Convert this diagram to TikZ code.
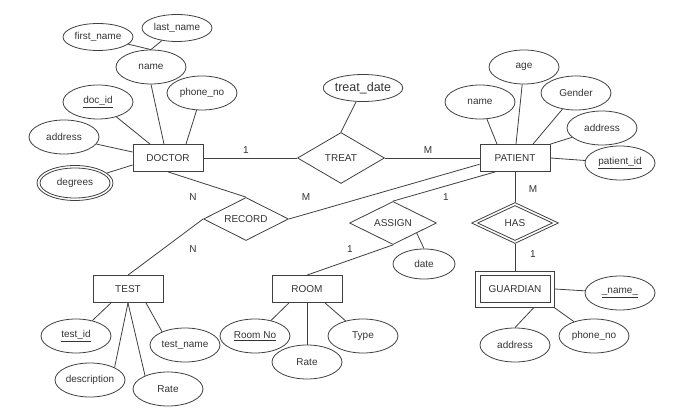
\documentclass[tikz,border=0pt]{standalone}
\usepackage{fontspec}
\setmainfont{Liberation Sans}
\usetikzlibrary{shapes.geometric}
\begin{document}
\begin{tikzpicture}[x=1pt,y=-1pt,
 every node/.style={font=\fontsize{10}{12}\selectfont, text=black!80},
 ent/.style={draw=black!75, line width=0.8pt, rectangle, minimum width=70pt, minimum height=27pt, inner sep=0pt},
 attr/.style={draw=black!75, line width=0.8pt, ellipse, minimum width=70pt, minimum height=34pt, inner sep=0pt},
 rel/.style={draw=black!75, line width=0.8pt, diamond, aspect=2, inner sep=0pt, minimum width=87pt, minimum height=43pt},
 lbl/.style={inner sep=0pt},
 conn/.style={draw=black!75, line width=0.8pt}]
\path[use as bounding box] (0,0) rectangle (696,414);

% entities
\node[ent] (doctor) at (168,158) {DOCTOR};
\node[ent] (patient) at (515,158) {PATIENT};
\node[ent] (test) at (128,289) {TEST};
\node[ent] (room) at (307,289) {ROOM};
\node[ent, minimum width=79pt, minimum height=36pt] (guardian) at (515,289) {GUARDIAN};
\node[ent, minimum width=70pt, minimum height=27pt] (guardianin) at (515,289) {};

% relationships
\node[rel, minimum height=51pt] (treat) at (341,158) {TREAT};
\node[rel, minimum width=85pt] (record) at (246,219) {RECORD};
\node[rel] (assign) at (393,223) {ASSIGN};
\node[rel, minimum width=87pt, minimum height=41pt] (has) at (515,223) {HAS};
\node[rel, minimum width=75pt, minimum height=35pt] (hasin) at (515,223) {};

% doctor attributes
\node[attr, minimum height=27pt] (fname) at (98,37) {first\_name};
\node[attr, minimum height=27pt] (lname) at (177,28) {last\_name};
\node[attr] (dname) at (151,67) {name};
\node[attr] (dphone) at (202,93) {phone\_no};
\node[attr] (docid) at (98,102) {\underline{doc\_id}};
\node[attr] (daddr) at (64,137) {address};
\node[attr, minimum width=76pt, minimum height=35pt] (degrees) at (75,183) {degrees};
\node[attr, minimum width=70pt, minimum height=30pt] (degreesin) at (75,183) {};

% treat attribute
\node[attr, minimum width=78pt, minimum height=27pt, font=\fontsize{12.5}{14}\selectfont] (tdate) at (363,88) {treat\_date};

% patient attributes
\node[attr] (pname) at (480,102) {name};
\node[attr] (page) at (524,67) {age};
\node[attr] (pgender) at (576,93) {Gender};
\node[attr] (paddr) at (602,128) {address};
\node[attr] (pid) at (620,163) {\underline{patient\_id}};

% guardian attributes
\node[attr] (gname) at (620,293) {\underline{\_name\_}};
\node[attr] (gaddr) at (515,345) {address};
\node[attr] (gphone) at (594,336) {phone\_no};

% assign attribute
\node[attr, minimum width=62pt, minimum height=30pt] (adate) at (424,264) {date};

% room attributes
\node[attr] (rno) at (255,336) {\underline{Room No}};
\node[attr] (rrate) at (307,362) {Rate};
\node[attr] (rtype) at (363,336) {Type};

% test attributes
\node[attr] (tid) at (76,336) {\underline{test\_id}};
\node[attr] (tname) at (185,345) {test\_name};
\node[attr] (tdesc) at (90,380) {description};
\node[attr] (trate) at (168,389) {Rate};

% cardinality labels
\node[lbl] (l1) at (246,150) {1};
\node[lbl] (l2) at (428,150) {M};
\node[lbl] (l3) at (193,197) {N};
\node[lbl] (l4) at (193,249) {N};
\node[lbl] (l5) at (306,197) {M};
\node[lbl] (l6) at (446,197) {1};
\node[lbl] (l7) at (350,249) {1};
\node[lbl] (l8) at (533,189) {M};
\node[lbl] (l9) at (533,254) {1};

% relationship connectors
\draw[conn] (doctor.east) -- (treat.west);
\draw[conn] (treat.east) -- (patient.west);
\draw[conn] (tdate) -- (treat.north);
\draw[conn] (doctor.south) -- (record.north);
\draw[conn] (record.west) -- (test.north);
\draw[conn] (record.east) -- (patient.190);
\draw[conn] (assign.north) -- (patient.215);
\draw[conn] (assign.south) -- (room.north);
\draw[conn] (assign.-23.5) -- (adate.north);
\draw[conn] (patient.south) -- (has.north);
\draw[conn] (has.south) -- (guardian.north);

% doctor attribute connectors
\draw[conn] (fname) -- (dname.north);
\draw[conn] (lname) -- (dname.north);
\draw[conn] (dname.south) -- ([xshift=-4pt]doctor.north);
\draw[conn] (docid) -- ([xshift=-18pt]doctor.north);
\draw[conn] (dphone) -- ([xshift=18pt]doctor.north);
\draw[conn] (daddr) -- ([yshift=6pt]doctor.west);
\draw[conn] (degrees) -- ([yshift=-7pt]doctor.west);

% patient attribute connectors
\draw[conn] (pname) -- ([xshift=-18pt]patient.north);
\draw[conn] (page) -- ([xshift=1pt]patient.north);
\draw[conn] (pgender) -- ([xshift=18pt]patient.north);
\draw[conn] (paddr) -- (patient.north east);
\draw[conn] (pid) -- (patient.east);

% guardian attribute connectors
\draw[conn] (guardian.east) -- (gname);
\draw[conn] ([xshift=19pt]guardian.south) -- (gaddr.north);
\draw[conn] ([xshift=39pt]guardian.south) -- (gphone);

% room attribute connectors
\draw[conn] ([xshift=-18pt]room.south) -- (rno);
\draw[conn] (room.south) -- (rrate.north);
\draw[conn] ([xshift=18pt]room.south) -- (rtype);

% test attribute connectors
\draw[conn] ([xshift=-17pt]test.south) -- (tid);
\draw[conn] (test.south) -- (tdesc.27.5);
\draw[conn] (test.south) -- (trate.150);
\draw[conn] ([xshift=18pt]test.south) -- (tname.150);
\end{tikzpicture}
\end{document}
